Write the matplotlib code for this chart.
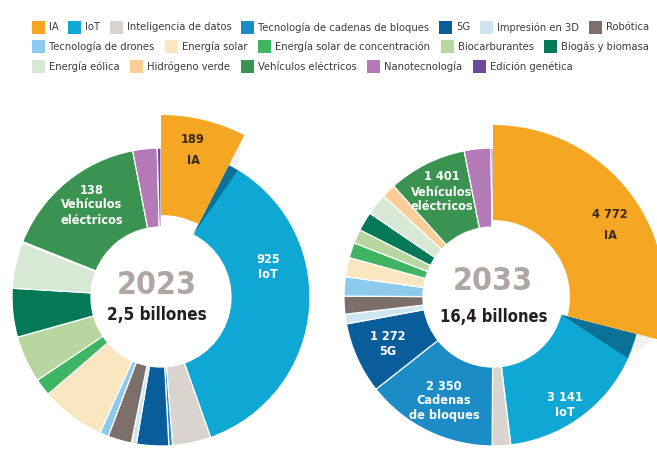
import numpy as np
import matplotlib
matplotlib.use("Agg")
import matplotlib.pyplot as plt
from matplotlib import font_manager
from matplotlib.patches import Polygon, Rectangle


# -------------------------------------------------
# Data (market size, billions of dollars)
# -------------------------------------------------

categories = [
    "IA", "IoT", "Inteligencia de datos", "Tecnología de cadenas de bloques",
    "5G", "Impresión en 3D", "Robótica", "Tecnología de drones",
    "Energía solar", "Energía solar de concentración", "Biocarburantes",
    "Biogás y biomasa", "Energía eólica", "Hidrógeno verde",
    "Vehículos eléctricos", "Nanotecnología", "Edición genética",
]

colors = [
    "#f5a623", "#0fa8d5", "#d9d4cf", "#1b8cc6", "#0a5d9b", "#cfe6f1",
    "#7c6e68", "#8ccbee", "#fae7c0", "#3fb463", "#b8d6a0", "#047957",
    "#d7e8d4", "#fbcd98", "#3b9351", "#b47ab5", "#6c489b",
]

values_2023 = [189, 925, 104, 10, 87, 14, 64, 24, 174, 47, 127, 132, 125, 3, 397, 66, 10]
values_2033 = [4772, 3141, 328, 2350, 1272, 173, 319, 342, 342, 273, 250, 342, 387, 250, 1401, 474, 36]

years = ["2023", "2033"]
totals = ["2,5 billones", "16,4 billones"]

labels_2023 = {0: "189\nIA", 1: "925\nIoT", 14: "138\nVehículos\neléctricos"}
labels_2033 = {0: "4 772\nIA", 1: "3 141\nIoT", 3: "2 350\nCadenas\nde bloques",
               4: "1 272\n5G", 14: "1 401\nVehículos\neléctricos"}


# -------------------------------------------------
# Layout (pixels, y measured from the top)
# -------------------------------------------------

W, H = 657, 453
R, R_IN = 149, 70

charts = [
    dict(values=values_2023, labels=labels_2023, center=(161, 297),
         ia_radii=(82, 182), shadow=4,
         label_pos={0: (32, -147), 1: (107, -30), 14: (-69, -92)},
         year_off=(-4, -12), total_off=(-4, 18)),
    dict(values=values_2033, labels=labels_2033, center=(493, 297),
         ia_radii=(77, 172), shadow=10,
         label_pos={0: (117, -72), 1: (72, 108), 3: (-49, 104),
                    4: (-105, 47), 14: (-51, -105)},
         year_off=(0, -15), total_off=(1, 20)),
]

legend_rows = [[0, 1, 2, 3, 4, 5, 6], [7, 8, 9, 10, 11], [12, 13, 14, 15, 16]]
legend_y = [27.5, 46.5, 66.5]
LEG_LEFT, LEG_RIGHT = 32, 649


# -------------------------------------------------
# Font: a narrow sans if one is installed
# -------------------------------------------------

stretches = {}
for f in font_manager.fontManager.ttflist:
    stretches.setdefault(f.name, set()).add(str(f.stretch))

FAMILY, STRETCH = "Liberation Sans", "normal"
if "Liberation Sans Narrow" in stretches:
    FAMILY = "Liberation Sans Narrow"
else:
    for n in ["DejaVu Sans", "Roboto", "Open Sans", "Noto Sans"]:
        if "condensed" in stretches.get(n, set()):
            FAMILY, STRETCH = n, "condensed"
            break
plt.rcParams["font.family"] = [FAMILY, "DejaVu Sans"]
plt.rcParams["font.stretch"] = STRETCH


def polar(cx, cy, r, a):
    t = np.radians(a)
    return cx + r * np.sin(t), cy + r * np.cos(t)


fig = plt.figure(figsize=(W / 100, H / 100), dpi=100)
ax = fig.add_axes([0, 0, 1, 1])
renderer = fig.canvas.get_renderer()


def fit(t, width, size):
    # shrink a text until it is no wider than the reference
    t.set_fontsize(size)
    w = t.get_window_extent(renderer).width
    if w > width:
        t.set_fontsize(size * width / w)
    return t.get_fontsize()


ref = ax.text(0, 0, "Vehículos\neléctricos", fontweight="bold", alpha=0)
lab_size = fit(ref, 62, 11)
ref.remove()

for ci, ch in enumerate(charts):
    cx, cy = ch["center"][0], H - ch["center"][1]
    vals = ch["values"]

    wedges, _ = ax.pie(
        vals, colors=colors, startangle=90, counterclock=False,
        radius=R, center=(cx, cy),
        wedgeprops=dict(width=R - R_IN, edgecolor="white", linewidth=0.9),
    )

    # exploded IA slice
    ia_in, ia_out = ch["ia_radii"]
    w = wedges[0]
    w.set_radius(ia_out)
    w.set_width(ia_out - ia_in)
    w.set_linewidth(0)
    w.set_zorder(4)

    a_end = vals[0] / sum(vals) * 360
    d = ch["shadow"]
    ax.add_patch(Polygon([polar(cx, cy, R_IN, a_end), polar(cx, cy, R - 1, a_end),
                          polar(cx, cy, R - 1, a_end + d)],
                         closed=True, facecolor="#0b7196", edgecolor="none", zorder=3))
    ax.add_patch(Polygon([polar(cx, cy, R + 1, a_end), polar(cx, cy, ia_out - 6, a_end),
                          polar(cx, cy, R + 3, a_end + d * 0.8)],
                         closed=True, facecolor="#e8e8e8", edgecolor="none",
                         alpha=0.6, zorder=3))

    for idx, txt in ch["labels"].items():
        ox, oy = ch["label_pos"][idx]
        ax.text(cx + ox, cy - oy, txt, ha="center", va="center",
                fontsize=lab_size, fontweight="bold",
                linespacing=1.75 if idx == 0 else 1.2,
                color="#3b2a18" if idx == 0 else "white", zorder=5)

    t = ax.text(cx + ch["year_off"][0], cy - ch["year_off"][1], years[ci],
                ha="center", va="center", fontweight="bold",
                color="#b0a7a5", zorder=5)
    fit(t, 80, 30)
    t = ax.text(cx + ch["total_off"][0], cy - ch["total_off"][1], totals[ci],
                ha="center", va="center", fontweight="bold",
                color="#231f20", zorder=5)
    fit(t, 100 if ci == 0 else 108, 15)


# -------------------------------------------------
# Legend: rows 1 and 2 justified, row 3 uses row 2 spacing
# -------------------------------------------------

leg_size = 9.5
probe = ax.text(0, 0, "", fontsize=leg_size, alpha=0)


def row_widths(row, size):
    probe.set_fontsize(size)
    out = []
    for idx in row:
        probe.set_text(categories[idx])
        out.append(17 + probe.get_window_extent(renderer).width)
    return out


while sum(row_widths(legend_rows[0], leg_size)) + 6 * 9 > LEG_RIGHT - LEG_LEFT:
    leg_size -= 0.1

gaps = []
for r, row in enumerate(legend_rows):
    widths = row_widths(row, leg_size)
    if r < 2:
        gap = (LEG_RIGHT - LEG_LEFT - sum(widths)) / (len(row) - 1)
        gaps.append(gap)
    else:
        gap = gaps[-1]
    x = LEG_LEFT
    y = legend_y[r]
    for idx, wd in zip(row, widths):
        ax.add_patch(Rectangle((x, H - y - 6.5), 13, 13, facecolor=colors[idx],
                               edgecolor="none"))
        ax.text(x + 17, H - y, categories[idx], ha="left", va="center",
                fontsize=leg_size, color="#3c3c3c")
        x += wd + gap
probe.remove()

ax.set_xlim(0, W)
ax.set_ylim(0, H)
ax.set_aspect("equal")
ax.axis("off")

fig.savefig("out.png", dpi=100)
